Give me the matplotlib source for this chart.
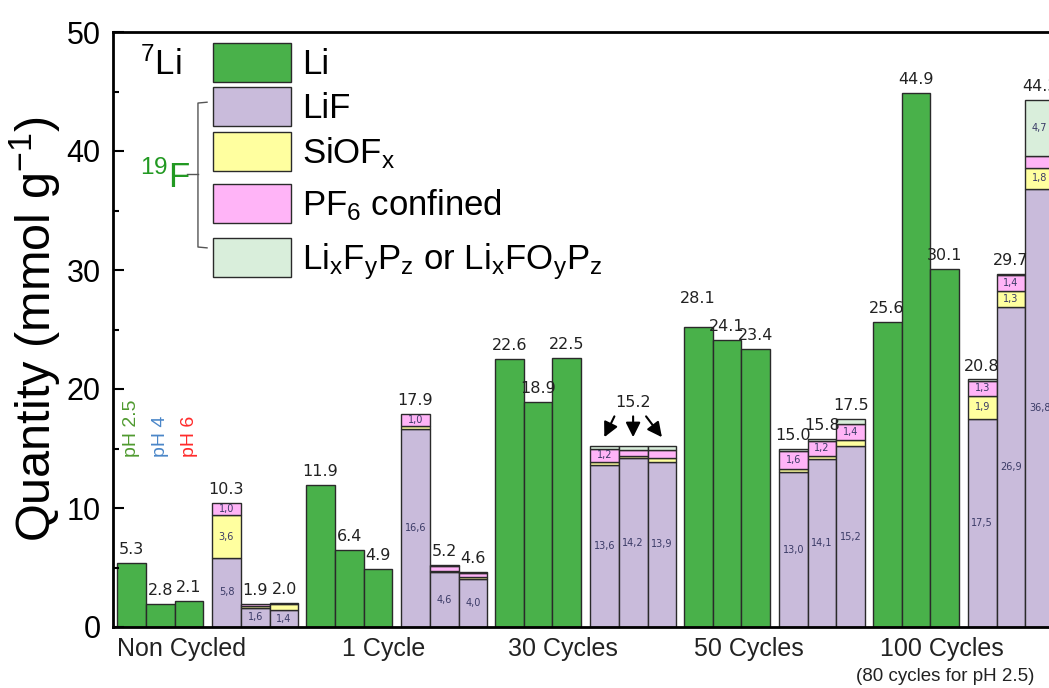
import matplotlib
matplotlib.use('Agg')
from matplotlib import pyplot as plt
from matplotlib.patches import Rectangle
from matplotlib.transforms import blended_transform_factory

plt.rcParams['font.family'] = ['Liberation Sans', 'DejaVu Sans']
plt.rcParams['mathtext.fontset'] = 'custom'
plt.rcParams['mathtext.rm'] = 'Liberation Sans'
plt.rcParams['mathtext.it'] = 'Liberation Sans:italic'
plt.rcParams['mathtext.bf'] = 'Liberation Sans:bold'

##############
# chart data #
##############

groups = ['Non Cycled', '1 Cycle', '30 Cycles', '50 Cycles', '100 Cycles']
ph_labels = ['pH 2.5', 'pH 4', 'pH 6']
legend_labels = ['Li', 'LiF', r'$\mathregular{SiOF_x}$', r'$\mathregular{PF_6}$ confined',
                 r'$\mathregular{Li_xF_yP_z}$ or $\mathregular{Li_xFO_yP_z}$']

# 7Li : metallic Li, one bar per pH (2.5, 4, 6)
li_values = [[5.4, 1.9, 2.2], [11.9, 6.5, 4.9], [22.5, 18.9, 22.6],
             [25.2, 24.1, 23.4], [25.6, 44.9, 30.1]]
li_text = [['5.3', '2.8', '2.1'], ['11.9', '6.4', '4.9'], ['22.6', '18.9', '22.5'],
           ['28.1', '24.1', '23.4'], ['25.6', '44.9', '30.1']]

# 19F : stacked species, one bar per pH
lif = [[5.8, 1.6, 1.4], [16.6, 4.6, 4.0], [13.6, 14.2, 13.9],
       [13.0, 14.1, 15.2], [17.5, 26.9, 36.8]]
siofx = [[3.6, 0.2, 0.5], [0.3, 0.1, 0.2], [0.3, 0.2, 0.3],
         [0.3, 0.3, 0.5], [1.9, 1.3, 1.8]]
pf6 = [[1.0, 0.1, 0.1], [1.0, 0.4, 0.3], [1.1, 0.5, 0.7],
       [1.5, 1.2, 1.4], [1.3, 1.4, 1.0]]
lixfypz = [[0.0, 0.0, 0.0], [0.0, 0.1, 0.1], [0.2, 0.3, 0.3],
           [0.2, 0.2, 0.4], [0.1, 0.1, 4.7]]
f_text = [['10.3', '1.9', '2.0'], ['17.9', '5.2', '4.6'], ['15.2', '15.2', '15.2'],
          ['15.0', '15.8', '17.5'], ['20.8', '29.7', '44.3']]

# numbers written inside the segments
lif_text = [['5,8', '1,6', '1,4'], ['16,6', '4,6', '4,0'], ['13,6', '14,2', '13,9'],
            ['13,0', '14,1', '15,2'], ['17,5', '26,9', '36,8']]
siofx_text = [['3,6', '', ''], ['', '', ''], ['', '', ''], ['', '', ''], ['1,9', '1,3', '1,8']]
pf6_text = [['1,0', '', ''], ['1,0', '', ''], ['1,2', '', ''], ['1,6', '1,2', '1,4'], ['1,3', '1,4', '']]
lix_text = [['', '', ''], ['', '', ''], ['', '', ''], ['', '', ''], ['', '', '4,7']]

###########
# styling #
###########

C_LI = '#49b14a'
C_LIF = '#c9bbdb'
C_SIOF = '#ffff9f'
C_PF6 = '#ffb4f7'
C_LIX = '#d9eedb'
EDGE = '#2a2a2a'
SEG_COLOR = '#3a3a66'
PH_COLORS = ['#4f9a2f', '#4a86c8', '#ff2a2a']

GROUP_STEP = 6.56
F_OFFSET = 3.30

fig = plt.figure(figsize=(10.49, 6.88), dpi=100)
ax = fig.add_axes([113 / 1049, 61 / 688, 968.8 / 1049, 595 / 688])


def bar_x(g, j, fluor):
	return g * GROUP_STEP + (F_OFFSET if fluor else 0) + j


# label above a bar, in the small sans font
def top_label(x, y, text, dy=0.5):
	ax.text(x + 0.5, y + dy, text, ha='center', va='bottom', fontsize=11.5,
			family='DejaVu Sans', color='#222222')


# number inside a stacked segment
def seg_label(x, bottom, h, text):
	if text:
		ax.text(x + 0.5, bottom + h / 2, text, ha='center', va='center', fontsize=7,
				family='DejaVu Sans', color=SEG_COLOR)


for g in range(len(groups)):
	for j in range(3):
		# 7Li bars
		x = bar_x(g, j, False)
		ax.bar(x, li_values[g][j], width=1, align='edge', color=C_LI, edgecolor=EDGE, linewidth=1)
		dy = 1.8 if (g == 3 and j == 0) else 0.5
		top_label(x, li_values[g][j], li_text[g][j], dy)

		# 19F stacked bars
		x = bar_x(g, j, True)
		bottom = 0
		layers = [(lif, C_LIF, lif_text), (siofx, C_SIOF, siofx_text),
				  (pf6, C_PF6, pf6_text), (lixfypz, C_LIX, lix_text)]
		for data, col, txt in layers:
			h = data[g][j]
			if h > 0:
				ax.bar(x, h, width=1, align='edge', bottom=bottom, color=col,
					   edgecolor=EDGE, linewidth=1)
				seg_label(x, bottom, h, txt[g][j])
			bottom += h
		if g != 2:
			top_label(x, bottom, f_text[g][j])

# 30 cycles: one shared total with arrows
xs = [bar_x(2, j, True) + 0.5 for j in range(3)]
ax.text(xs[1], 18.9, f_text[2][1], ha='center', va='center', fontsize=11.5,
		family='DejaVu Sans', color='#222222')
for xc, shift in zip(xs, [0.35, 0.0, -0.55]):
	ax.annotate('', xy=(xc, 15.95), xytext=(xc + shift, 17.7),
				arrowprops=dict(arrowstyle='-|>', color='black', lw=1.5, mutation_scale=22,
								shrinkA=0, shrinkB=0))

# pH labels over the first bars
for j in range(3):
	ax.text(bar_x(0, j, False) + 0.5, 14.3, ph_labels[j], rotation=90, ha='center',
			va='bottom', fontsize=14, color=PH_COLORS[j])

# group names below the axis
trans = blended_transform_factory(ax.transData, ax.transAxes)
name_x = [2.25, 9.25, 15.5, 21.95, 28.65]
for name, nx in zip(groups, name_x):
	ax.text(nx, -0.037, name, transform=trans, ha='center',
			va='center', fontsize=18, color='#222222')
ax.text(28.75, -0.084, '(80 cycles for pH 2.5)', transform=trans,
		ha='center', va='center', fontsize=13.5, color='#222222')

# hand made legend
colors = [C_LI, C_LIF, C_SIOF, C_PF6, C_LIX]
legend_bottoms = [45.8, 42.1, 38.32, 33.95, 29.41]
for col, yb, lab in zip(colors, legend_bottoms, legend_labels):
	ax.add_patch(Rectangle((3.33, yb), 2.71, 3.28, facecolor=col, edgecolor=EDGE,
						   linewidth=1, clip_on=False))
	ax.text(6.42, yb + 0.65, lab, ha='left', va='baseline', fontsize=25, color='black')

ax.text(0.8, 46.39, r'$\mathregular{^{7}Li}$', ha='left', va='baseline', fontsize=25)
ax.text(0.8, 36.89, r'$\mathregular{^{19}F}$', ha='left', va='baseline', fontsize=25,
		color='#229922')
ax.plot([2.43, 2.81], [38.07, 38.07], color='#555555', lw=1)
ax.plot([3.125, 2.81, 2.81, 3.125], [44.1, 44.03, 31.93, 31.86], color='#555555', lw=1)

# axes
ax.set_xlim(-0.14, 33.5)
ax.set_ylim(0, 50)
ax.set_xticks([])
ax.set_yticks(range(0, 51, 10))
ax.set_yticks(range(5, 50, 10), minor=True)
ax.tick_params(axis='y', which='major', direction='in', length=8, width=1.5,
			   labelsize=22, pad=9)
ax.tick_params(axis='y', which='minor', direction='in', length=4, width=1.5)
for s in ax.spines.values():
	s.set_linewidth(2)
ax.spines['right'].set_visible(False)

ax.set_ylabel(r'Quantity (mmol g$\mathregular{^{-1}}$)', fontsize=35)
ax.yaxis.set_label_coords(-0.052, 0.5)

fig.savefig('out.png', dpi=100)
